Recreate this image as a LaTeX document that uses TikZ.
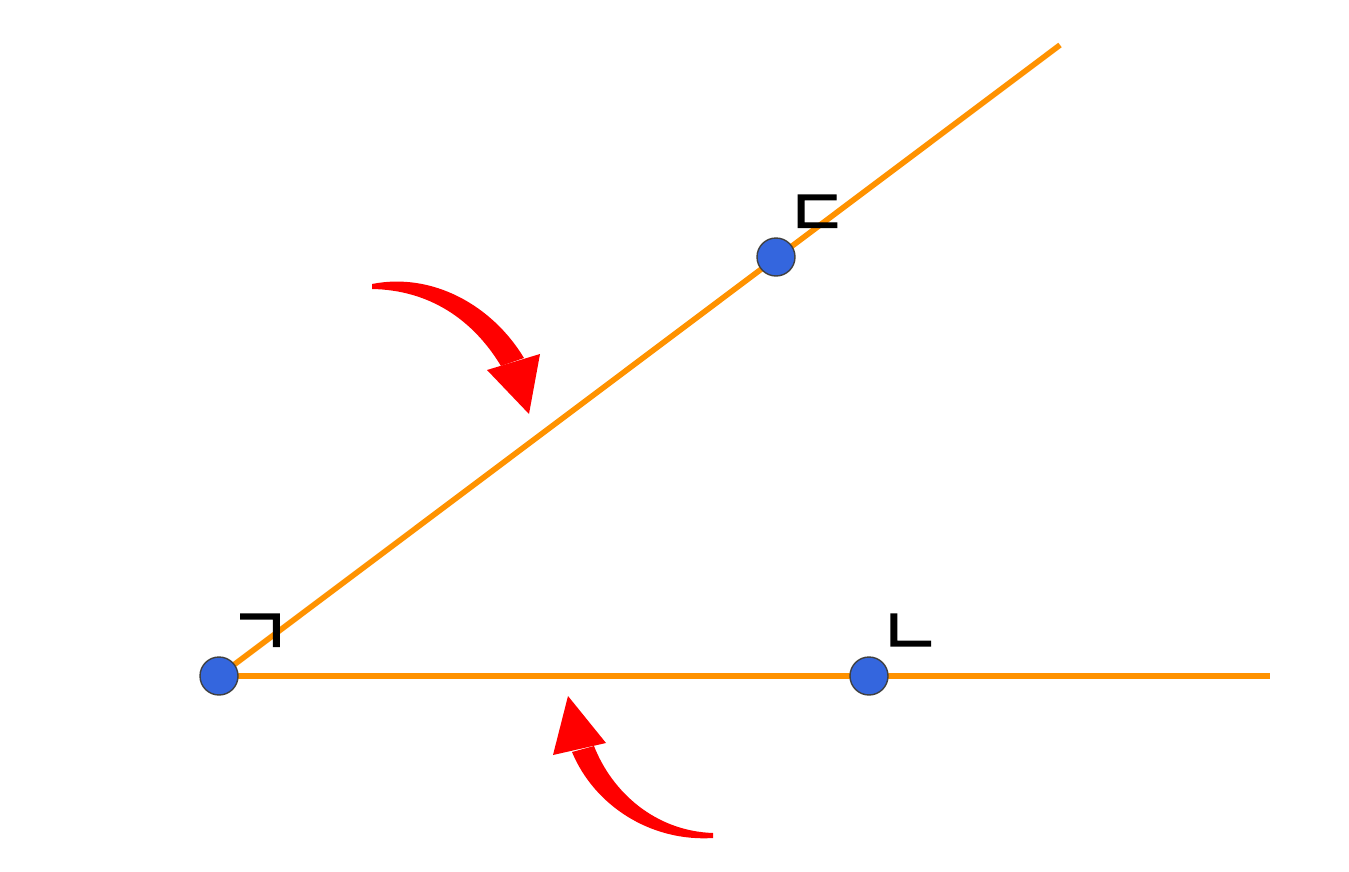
\documentclass[tikz,border=0pt]{standalone}
\usepackage{fontspec}
\newfontfamily\krfont[FakeBold=2]{Noto Sans CJK KR}
\usepackage{tikz}
\definecolor{rayorange}{RGB}{255,146,0}
\definecolor{dotblue}{RGB}{52,102,222}
\definecolor{arrowred}{RGB}{255,0,0}

\begin{document}
\begin{tikzpicture}[x=0.02cm,y=-0.02cm]
    \useasboundingbox (0,0) rectangle (1349,872);
    \coordinate (A) at (219,676);
    \coordinate (B) at (776,257);
    \coordinate (C) at (869,676);
    \coordinate (Bend) at (1060,45);
    \coordinate (Cend) at (1270,676);

    \begin{scope}[every path/.style={draw=rayorange,line width=3.2pt}]
        \path (A) -- (Bend);
        \path (A) -- (Cend);
    \end{scope}

    \begin{scope}[every node/.style={fill=dotblue,circle,draw=black!75,line width=0.8pt,
                  minimum size=0.76cm,inner sep=0pt}]
        \node (a) at (A) {};
        \node (b) at (B) {};
        \node (c) at (C) {};
    \end{scope}

    \begin{scope}[every node/.style={font=\krfont\fontsize{39}{39}\selectfont,inner sep=0pt}]
        \node (la) at (260,635) {ㄱ};
        \node (lb) at (817,216) {ㄷ};
        \node (lc) at (910,635) {ㄴ};
    \end{scope}

    % curved arrows
    \fill[arrowred] (372,284) .. controls (432,272) and (492,305) .. (524,358)
        -- (501,366) .. controls (472,318) and (428,290) .. (372,289) -- cycle;
    \fill[arrowred] (487,370) -- (540,354) -- (529,414) -- cycle;
    \fill[arrowred] (713,838) .. controls (650,842) and (594,805) .. (572,752)
        -- (594,746) .. controls (612,792) and (655,831) .. (713,833) -- cycle;
    \fill[arrowred] (553,755) -- (606,743) -- (568,696) -- cycle;
\end{tikzpicture}
\end{document}
